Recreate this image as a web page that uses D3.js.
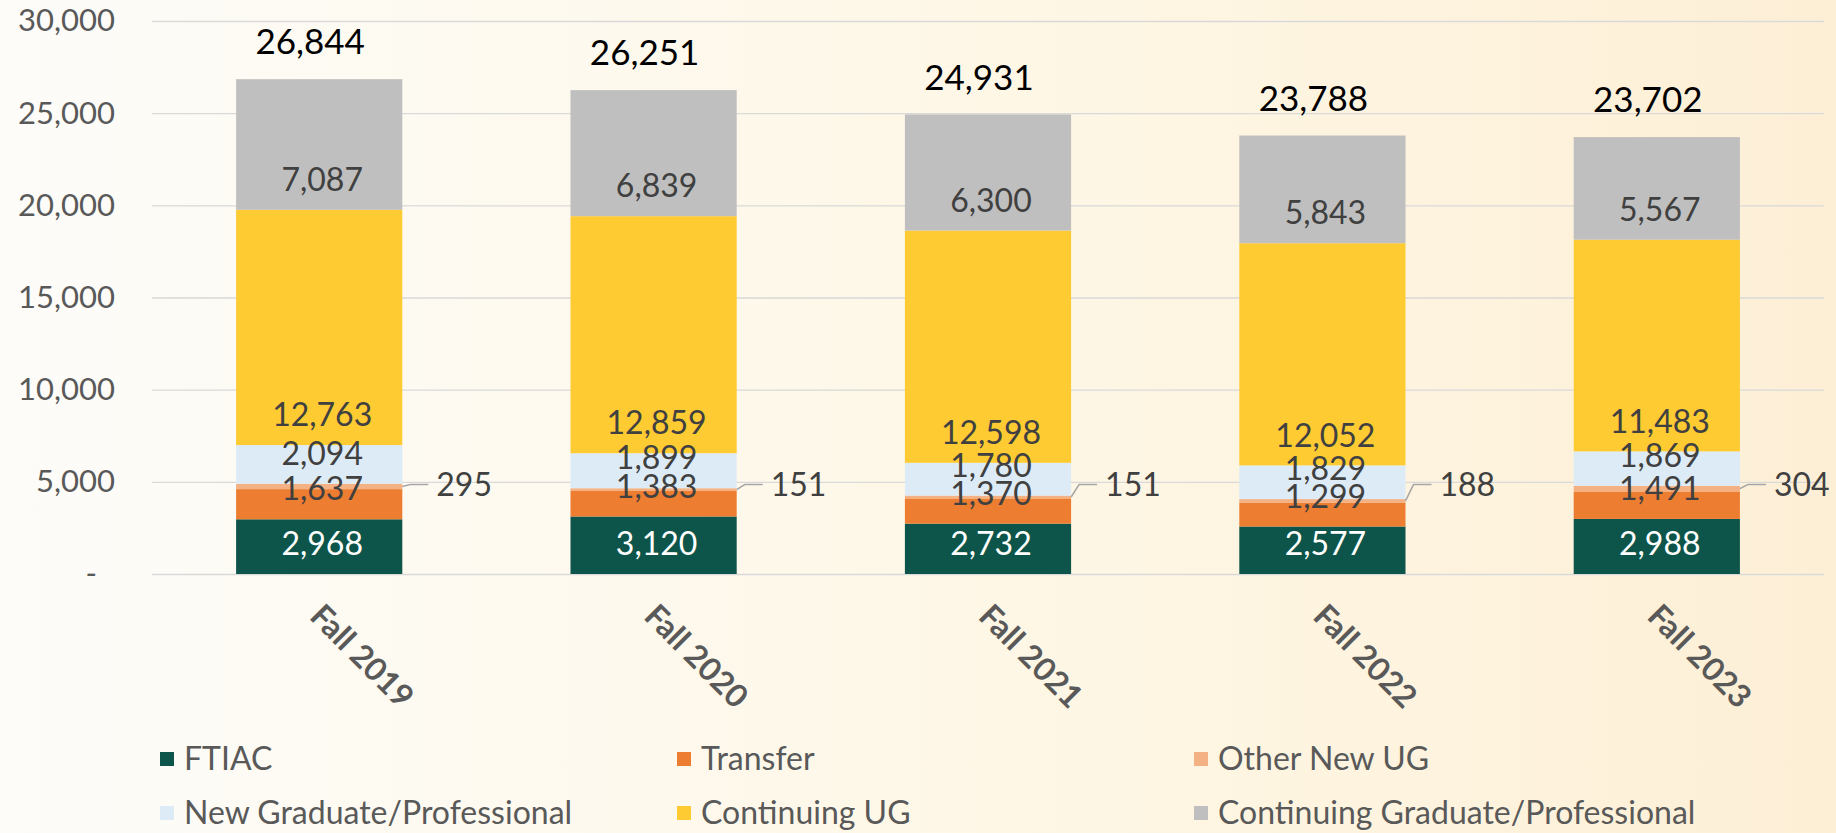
<!DOCTYPE html>
<html>
<head>
<meta charset="utf-8">
<script src="https://cdn.jsdelivr.net/npm/d3@7"></script>
<style>
  html, body { margin: 0; padding: 0; }
  body { width: 1836px; height: 833px; overflow: hidden; }
  text { font-family: Lato, "Open Sans", sans-serif; }
</style>
</head>
<body>
<div id="chart"></div>
<script>
// Data
const terms = ["Fall 2019", "Fall 2020", "Fall 2021", "Fall 2022", "Fall 2023"];
const seriesNames = ["FTIAC", "Transfer", "Other New UG", "New Graduate/Professional",
                     "Continuing UG", "Continuing Graduate/Professional"];
const ftiac = [2968, 3120, 2732, 2577, 2988];
const transfer = [1637, 1383, 1370, 1299, 1491];
const otherNewUG = [295, 151, 151, 188, 304];
const newGradProf = [2094, 1899, 1780, 1829, 1869];
const continuingUG = [12763, 12859, 12598, 12052, 11483];
const continuingGradProf = [7087, 6839, 6300, 5843, 5567];
const yTicks = [0, 5000, 10000, 15000, 20000, 25000, 30000];

function enrollmentChart() {
      // Size
  let margin = { top: 21, left: 152, bottom: 259, right: 12 },
      width = 1836,
      height = 833,
      innerWidth = function() { return width - margin.left - margin.right; },
      innerHeight = function() { return height - margin.top - margin.bottom; },

      // Styles
      colors = ["#0d554a", "#ed7d31", "#f4b183", "#ddebf7", "#ffcb33", "#bfbfbf"],
      labelColors = ["#ffffff", "#404040", "#404040", "#404040", "#404040", "#404040"],
      textColor = "#595959",

      svg = d3.select();

  function chart(selection) {
    selection.each(function() {
      svg = d3.select(this).append("svg")
          .attr("width", width)
          .attr("height", height);

      // Background gradient
      const grad = svg.append("defs").append("linearGradient")
          .attr("id", "bg")
          .attr("x1", 0).attr("x2", 1).attr("y1", 0).attr("y2", 0);
      grad.append("stop").attr("offset", "0%").attr("stop-color", "#fdfcf9");
      grad.append("stop").attr("offset", "55%").attr("stop-color", "#fef7e6");
      grad.append("stop").attr("offset", "100%").attr("stop-color", "#fdefd6");

      svg.append("rect")
          .attr("width", width)
          .attr("height", height)
          .attr("fill", "url(#bg)");

      const g = svg.append("g")
          .attr("transform", "translate(" + margin.left + "," + margin.top + ")");

      ["axes", "bars", "labels", "legend"].forEach(c => g.append("g").attr("class", c));

      draw(g);
    });
  }

  function draw(g) {
    // Build rows for the stack
    const series = [ftiac, transfer, otherNewUG, newGradProf, continuingUG, continuingGradProf];
    const rows = terms.map((t, i) => {
      const row = { term: t };
      seriesNames.forEach((s, j) => row[s] = series[j][i]);
      return row;
    });
    const stacked = d3.stack().keys(seriesNames)(rows);
    const totals = rows.map(r => d3.sum(seriesNames, s => r[s]));

    // Scales
    const xScale = d3.scaleBand()
        .domain(terms)
        .range([0, innerWidth()])
        .paddingInner(0.503)
        .paddingOuter(0.2515);

    const yScale = d3.scaleLinear()
        .domain([0, 30000])
        .range([innerHeight(), 0]);

    const fmt = d3.format(",");

    // Y axis with gridlines
    const yAxis = d3.axisLeft(yScale)
        .tickValues(yTicks)
        .tickSize(-innerWidth())
        .tickPadding(37)
        .tickFormat(d => d === 0 ? "-" : fmt(d));

    const gY = g.select(".axes").append("g")
        .call(yAxis);
    gY.select(".domain").remove();
    gY.selectAll(".tick line")
        .attr("stroke", "#d9d9d9")
        .attr("stroke-width", 1.4);
    gY.selectAll(".tick text")
        .attr("fill", textColor)
        .style("font-size", "31px")
        .attr("dx", d => d === 0 ? -18 : 0);

    // X axis, rotated labels
    const xAxis = d3.axisBottom(xScale).tickSize(0);
    const gX = g.select(".axes").append("g")
        .attr("transform", "translate(0," + innerHeight() + ")")
        .call(xAxis);
    gX.select(".domain").remove();
    gX.selectAll(".tick text")
        .attr("fill", textColor)
        .style("font-size", "32px")
        .style("font-weight", "bold")
        .attr("text-anchor", "start")
        .attr("x", 0).attr("y", 0).attr("dy", 0)
        .attr("transform", "translate(-11,44) rotate(45)");

    // Bars
    const layer = g.select(".bars").selectAll(".layer")
        .data(stacked)
      .enter().append("g")
        .attr("class", "layer")
        .attr("fill", (d, i) => colors[i]);

    layer.selectAll("rect")
        .data(d => d)
      .enter().append("rect")
        .attr("x", d => xScale(d.data.term))
        .attr("width", xScale.bandwidth())
        .attr("y", d => yScale(d[1]))
        .attr("height", d => yScale(d[0]) - yScale(d[1]));

    // Segment labels (inside base), Other New UG outside with leader line
    const labels = g.select(".labels");
    stacked.forEach((s, si) => {
      s.forEach(d => {
        const cx = xScale(d.data.term) + xScale.bandwidth() / 2;
        const value = d[1] - d[0];
        if (si === 2) {
          const right = xScale(d.data.term) + xScale.bandwidth(),
                segY = (yScale(d[0]) + yScale(d[1])) / 2,
                labelY = Math.min(segY, yScale(4850)),
                labelX = right + 34;
          labels.append("path")
              .attr("d", d3.line()([[right, segY], [right + 8, labelY], [labelX - 8, labelY]]))
              .attr("fill", "none")
              .attr("stroke", "#a6a6a6")
              .attr("stroke-width", 1.5);
          labels.append("text")
              .attr("x", labelX)
              .attr("y", labelY)
              .attr("dy", "0.35em")
              .attr("fill", "#404040")
              .style("font-size", "32px")
              .text(fmt(value));
        } else {
          labels.append("text")
              .attr("x", cx + 3)
              .attr("y", yScale(d[0]) - 30)
              .attr("dy", "0.35em")
              .attr("text-anchor", "middle")
              .attr("fill", labelColors[si])
              .style("font-size", "32px")
              .text(fmt(value));
        }
      });
    });

    // Totals
    labels.selectAll(".total")
        .data(totals)
      .enter().append("text")
        .attr("class", "total")
        .attr("x", (d, i) => xScale(terms[i]) + xScale.bandwidth() / 2 - 9)
        .attr("y", d => yScale(d) - 37)
        .attr("dy", "0.35em")
        .attr("text-anchor", "middle")
        .attr("fill", "#000")
        .style("font-size", "35px")
        .text(d => fmt(d));

    // Legend: 3 columns, 2 rows
    const legend = g.select(".legend")
        .attr("transform", "translate(" + (-margin.left) + "," + (-margin.top) + ")");
    const item = legend.selectAll(".item")
        .data(seriesNames)
      .enter().append("g")
        .attr("class", "item")
        .attr("transform", (d, i) => "translate(" + (160 + (i % 3) * 517) + "," + (759 + Math.floor(i / 3) * 54) + ")");

    item.append("rect")
        .attr("x", 0).attr("y", -7)
        .attr("width", 14).attr("height", 14)
        .attr("fill", (d, i) => colors[i]);

    item.append("text")
        .attr("x", 24)
        .attr("dy", "0.35em")
        .attr("fill", textColor)
        .style("font-size", "32px")
        .text(d => d);
  }

  chart.width = function(_) {
    if (!arguments.length) return width;
    width = _;
    return chart;
  };

  chart.height = function(_) {
    if (!arguments.length) return height;
    height = _;
    return chart;
  };

  return chart;
}

d3.select("#chart").call(enrollmentChart());
</script>
</body>
</html>
